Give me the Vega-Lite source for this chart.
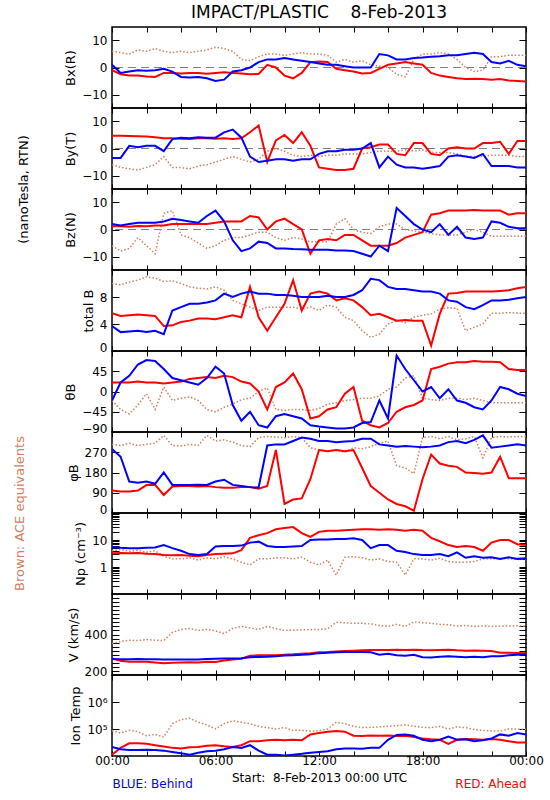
{
"$schema": "https://vega.github.io/schema/vega-lite/v6.json",
"background": "white",
"padding": {"left": 12, "top": 3, "right": 5, "bottom": 5},
"title": {"text": "IMPACT/PLASTIC\u00a0\u00a0\u00a0\u00a08-Feb-2013", "font": "DejaVu Sans", "fontSize": 17, "fontWeight": "normal", "color": "black", "anchor": "middle", "frame": "group", "offset": 4},
"spacing": 0,
"bounds": "flush",
"datasets": {
"bx": [
{"t":0,"a":6,"r":-1,"b":1},{"t":0.5,"a":5.5,"r":-2.5,"b":-2},{"t":1,"a":5,"r":-3,"b":-1.5},{"t":1.5,"a":6.5,"r":-3,"b":-1},{"t":2,"a":6,"r":-3.3,"b":-1.2},{"t":2.5,"a":7,"r":-3.5,"b":-1},{"t":3,"a":6,"r":-2,"b":-0.5},{"t":3.5,"a":5.5,"r":-2,"b":-1.5},{"t":4,"a":6,"r":-2.2,"b":-3.5},{"t":4.5,"a":5.5,"r":-2,"b":-3.7},{"t":5,"a":6,"r":-2,"b":-3.5},{"t":5.5,"a":6.5,"r":-2.3,"b":-4},{"t":6,"a":7.5,"r":-2,"b":-5},{"t":6.5,"a":7,"r":-1.8,"b":-4.5},{"t":7,"a":6,"r":-2,"b":-1.5},{"t":7.5,"a":3,"r":-2.2,"b":-1},{"t":8,"a":2.5,"r":-2.5,"b":0},{"t":8.5,"a":4,"r":-2.4,"b":2},{"t":9,"a":5,"r":1,"b":3},{"t":9.5,"a":5,"r":0,"b":3},{"t":10,"a":4.5,"r":-3,"b":3.5},{"t":10.5,"a":5,"r":-4,"b":3},{"t":11,"a":5.5,"r":-2,"b":2.5},{"t":11.5,"a":5,"r":2,"b":2},{"t":12,"a":5,"r":2.2,"b":1.5},{"t":12.5,"a":4.5,"r":2,"b":1},{"t":13,"a":2,"r":-0.5,"b":1},{"t":13.5,"a":3,"r":-1,"b":0.5},{"t":14,"a":2,"r":-1.5,"b":0},{"t":14.5,"a":2.5,"r":-2.2,"b":0},{"t":15,"a":1,"r":-2,"b":0},{"t":15.5,"a":0.5,"r":-0.5,"b":5},{"t":16,"a":0,"r":1,"b":4.5},{"t":16.5,"a":-2.5,"r":1.5,"b":3},{"t":17,"a":-3.5,"r":2,"b":3},{"t":17.5,"a":3,"r":1.5,"b":3.5},{"t":18,"a":5,"r":1,"b":3.7},{"t":18.5,"a":5,"r":-2,"b":4},{"t":19,"a":5.5,"r":-3,"b":4.2},{"t":19.5,"a":5,"r":-3.5,"b":4.5},{"t":20,"a":3,"r":-4,"b":4.5},{"t":20.5,"a":0,"r":-4.3,"b":5},{"t":21,"a":-1.5,"r":-4.2,"b":5.5},{"t":21.5,"a":-1,"r":-4.3,"b":5},{"t":22,"a":4,"r":-4.5,"b":2},{"t":22.5,"a":4,"r":-4.3,"b":1.5},{"t":23,"a":4.5,"r":-4.8,"b":2.5},{"t":23.5,"a":4.5,"r":-5,"b":1},{"t":24,"a":4.5,"r":-5.2,"b":0.5}
],
"by": [
{"t":0,"a":-6,"r":4.7,"b":-3.5},{"t":0.5,"a":-7,"r":4.7,"b":-3.5},{"t":1,"a":-7.5,"r":4.6,"b":1},{"t":1.5,"a":-8,"r":4.5,"b":0.5},{"t":2,"a":-7,"r":4.4,"b":1},{"t":2.5,"a":-6,"r":4.2,"b":1},{"t":3,"a":-3,"r":3.8,"b":-1},{"t":3.5,"a":-7,"r":3.8,"b":3.5},{"t":4,"a":-7,"r":3.6,"b":4},{"t":4.5,"a":-7.5,"r":3.5,"b":3.8},{"t":5,"a":-6.5,"r":3.8,"b":4.2},{"t":5.5,"a":-6,"r":3.8,"b":4},{"t":6,"a":-5,"r":3.6,"b":4},{"t":6.5,"a":-4,"r":3.8,"b":6},{"t":7,"a":-3,"r":3.5,"b":7},{"t":7.5,"a":-4,"r":3.8,"b":4},{"t":8,"a":-5,"r":6,"b":-3},{"t":8.5,"a":-4,"r":8.5,"b":-5},{"t":9,"a":-1,"r":-5,"b":-4.5},{"t":9.5,"a":0,"r":3,"b":-4},{"t":10,"a":-1,"r":5,"b":-4},{"t":10.5,"a":-2.5,"r":2,"b":-4.5},{"t":11,"a":-3,"r":6,"b":-4},{"t":11.5,"a":-2.5,"r":1,"b":-4},{"t":12,"a":-3,"r":-7,"b":-2},{"t":12.5,"a":-2.5,"r":-7.5,"b":-1},{"t":13,"a":-2.5,"r":-8,"b":-1},{"t":13.5,"a":-2,"r":-8,"b":-0.5},{"t":14,"a":-2,"r":-7.5,"b":-0.5},{"t":14.5,"a":-2,"r":0,"b":0},{"t":15,"a":-1.5,"r":0.5,"b":2},{"t":15.5,"a":-1,"r":1.5,"b":-7},{"t":16,"a":-1,"r":1.5,"b":-3},{"t":16.5,"a":-1,"r":-2,"b":-6},{"t":17,"a":-0.5,"r":-2.5,"b":-7},{"t":17.5,"a":-1,"r":2,"b":-7},{"t":18,"a":-0.5,"r":2,"b":-7.5},{"t":18.5,"a":-1.5,"r":-2,"b":-7},{"t":19,"a":-1.5,"r":-2.5,"b":-6.5},{"t":19.5,"a":-1.5,"r":0,"b":-3},{"t":20,"a":-2,"r":0.5,"b":-2.5},{"t":20.5,"a":-3,"r":0,"b":-3},{"t":21,"a":-3,"r":0,"b":-3.5},{"t":21.5,"a":-3,"r":2,"b":-2},{"t":22,"a":-2.5,"r":2,"b":-6.5},{"t":22.5,"a":-2.5,"r":2.5,"b":-6.5},{"t":23,"a":-2.5,"r":-2,"b":-6.5},{"t":23.5,"a":-3,"r":2.8,"b":-7},{"t":24,"a":-3,"r":2.8,"b":-7}
],
"bz": [
{"t":0,"a":-6,"r":1.2,"b":2},{"t":0.5,"a":-8,"r":1.2,"b":1.5},{"t":1,"a":-7,"r":1,"b":2},{"t":1.5,"a":-3,"r":1.3,"b":2.5},{"t":2,"a":-6,"r":1.2,"b":2.5},{"t":2.5,"a":-9,"r":1.5,"b":2.5},{"t":3,"a":6,"r":1.5,"b":3},{"t":3.5,"a":7,"r":2,"b":4},{"t":4,"a":-2,"r":2,"b":3.5},{"t":4.5,"a":-3,"r":2,"b":3},{"t":5,"a":-5,"r":2,"b":2.5},{"t":5.5,"a":-7,"r":2,"b":5},{"t":6,"a":-6,"r":2.5,"b":7},{"t":6.5,"a":-4,"r":3,"b":3},{"t":7,"a":-3,"r":3,"b":-4},{"t":7.5,"a":-3,"r":3,"b":-8},{"t":8,"a":-2,"r":5,"b":-7},{"t":8.5,"a":-1,"r":4.5,"b":-4.5},{"t":9,"a":-1,"r":0,"b":-5},{"t":9.5,"a":-3,"r":3,"b":-7},{"t":10,"a":-4,"r":4,"b":-7},{"t":10.5,"a":-3,"r":2,"b":-7.2},{"t":11,"a":-3.5,"r":0,"b":-7.3},{"t":11.5,"a":-4.5,"r":-9,"b":-7.5},{"t":12,"a":-4.5,"r":-4,"b":-7.5},{"t":12.5,"a":-4.5,"r":-3.5,"b":-7.5},{"t":13,"a":2,"r":-4,"b":-7.8},{"t":13.5,"a":4,"r":-2,"b":-7.8},{"t":14,"a":0,"r":-2,"b":-8},{"t":14.5,"a":-1,"r":-4,"b":-9},{"t":15,"a":-1.5,"r":-6,"b":-10},{"t":15.5,"a":1,"r":-6,"b":-6},{"t":16,"a":2,"r":-6,"b":-8},{"t":16.5,"a":2,"r":-5,"b":8},{"t":17,"a":0,"r":-3,"b":5},{"t":17.5,"a":-0.5,"r":-2,"b":2},{"t":18,"a":-1,"r":-1,"b":0},{"t":18.5,"a":-1.5,"r":5.5,"b":-1},{"t":19,"a":-2,"r":6,"b":2},{"t":19.5,"a":-2,"r":7,"b":-2},{"t":20,"a":-2,"r":7,"b":1},{"t":20.5,"a":-1,"r":7,"b":-3},{"t":21,"a":0,"r":7.2,"b":-3.5},{"t":21.5,"a":-1,"r":7,"b":-3},{"t":22,"a":-2.5,"r":7,"b":3},{"t":22.5,"a":-2.5,"r":7,"b":2.5},{"t":23,"a":-2.5,"r":5.5,"b":1},{"t":23.5,"a":-2.5,"r":6,"b":0.5},{"t":24,"a":-2.5,"r":6,"b":0.5}
],
"tb": [
{"t":0,"a":10,"r":5.6,"b":3.7},{"t":0.5,"a":9.8,"r":5.2,"b":2.8},{"t":1,"a":10.2,"r":5.3,"b":2.9},{"t":1.5,"a":10.5,"r":5.4,"b":3},{"t":2,"a":11,"r":5.3,"b":2.8},{"t":2.5,"a":10.8,"r":5.2,"b":3},{"t":3,"a":10.3,"r":3.7,"b":2.5},{"t":3.5,"a":10.4,"r":3.8,"b":6},{"t":4,"a":10,"r":4.3,"b":6.5},{"t":4.5,"a":9.5,"r":4.5,"b":7},{"t":5,"a":9.3,"r":4.8,"b":7},{"t":5.5,"a":9.2,"r":4.8,"b":7.2},{"t":6,"a":9.5,"r":4.7,"b":7.5},{"t":6.5,"a":9,"r":5,"b":8.5},{"t":7,"a":7.5,"r":5.3,"b":8},{"t":7.5,"a":7,"r":5,"b":8.5},{"t":8,"a":6.5,"r":9.5,"b":8.8},{"t":8.5,"a":6,"r":5,"b":8.5},{"t":9,"a":6.5,"r":3,"b":8.5},{"t":9.5,"a":6.5,"r":5,"b":8.3},{"t":10,"a":6.5,"r":7,"b":8.3},{"t":10.5,"a":6.5,"r":10.5,"b":8.2},{"t":11,"a":6.2,"r":6,"b":8},{"t":11.5,"a":6.5,"r":8.5,"b":8},{"t":12,"a":6,"r":8.8,"b":8},{"t":12.5,"a":6.8,"r":8.5,"b":8.2},{"t":13,"a":6.5,"r":7.5,"b":8},{"t":13.5,"a":5,"r":7.8,"b":8},{"t":14,"a":4.5,"r":7.5,"b":8.3},{"t":14.5,"a":3,"r":6.5,"b":9},{"t":15,"a":2,"r":5.3,"b":10.7},{"t":15.5,"a":2.5,"r":5.5,"b":10.5},{"t":16,"a":4,"r":5,"b":9.5},{"t":16.5,"a":4.5,"r":4.5,"b":9.2},{"t":17,"a":4.2,"r":4.6,"b":9.2},{"t":17.5,"a":5,"r":4.5,"b":9},{"t":18,"a":5.3,"r":4.5,"b":8.8},{"t":18.5,"a":5.5,"r":0.8,"b":8.8},{"t":19,"a":6.2,"r":5.5,"b":8.5},{"t":19.5,"a":6.4,"r":8.5,"b":7.5},{"t":20,"a":6.3,"r":8.6,"b":7.3},{"t":20.5,"a":3,"r":8.8,"b":6.5},{"t":21,"a":3.5,"r":8.8,"b":6.2},{"t":21.5,"a":4,"r":8.8,"b":6.8},{"t":22,"a":5.6,"r":8.8,"b":7.5},{"t":22.5,"a":5.6,"r":8.9,"b":7.5},{"t":23,"a":5.7,"r":9,"b":7.6},{"t":23.5,"a":5.6,"r":9.3,"b":7.8},{"t":24,"a":5.6,"r":9.5,"b":8}
],
"th": [
{"t":0,"a":-20,"r":20,"b":-20},{"t":0.5,"a":-40,"r":20,"b":20},{"t":1,"a":-50,"r":20,"b":35},{"t":1.5,"a":-30,"r":22,"b":60},{"t":2,"a":-5,"r":20,"b":70},{"t":2.5,"a":-40,"r":20,"b":68},{"t":3,"a":10,"r":18,"b":50},{"t":3.5,"a":-20,"r":20,"b":30},{"t":4,"a":-15,"r":22,"b":25},{"t":4.5,"a":-12,"r":28,"b":20},{"t":5,"a":-20,"r":30,"b":15},{"t":5.5,"a":-40,"r":32,"b":30},{"t":6,"a":-45,"r":30,"b":55},{"t":6.5,"a":-35,"r":35,"b":40},{"t":7,"a":-28,"r":32,"b":-30},{"t":7.5,"a":-18,"r":22,"b":-65},{"t":8,"a":-15,"r":18,"b":-45},{"t":8.5,"a":0,"r":0,"b":-75},{"t":9,"a":8,"r":-40,"b":-80},{"t":9.5,"a":-40,"r":10,"b":-55},{"t":10,"a":-42,"r":20,"b":-50},{"t":10.5,"a":-40,"r":40,"b":-55},{"t":11,"a":-40,"r":5,"b":-60},{"t":11.5,"a":-42,"r":-60,"b":-75},{"t":12,"a":-38,"r":-55,"b":-78},{"t":12.5,"a":-28,"r":-40,"b":-80},{"t":13,"a":-25,"r":-35,"b":-82},{"t":13.5,"a":-20,"r":-5,"b":-82},{"t":14,"a":-18,"r":10,"b":-80},{"t":14.5,"a":-15,"r":-65,"b":-70},{"t":15,"a":-15,"r":-75,"b":-68},{"t":15.5,"a":-10,"r":-80,"b":-20},{"t":16,"a":5,"r":-70,"b":-60},{"t":16.5,"a":10,"r":-45,"b":80},{"t":17,"a":30,"r":-35,"b":50},{"t":17.5,"a":35,"r":-30,"b":25},{"t":18,"a":-15,"r":-20,"b":0},{"t":18.5,"a":-18,"r":50,"b":10},{"t":19,"a":-20,"r":55,"b":-15},{"t":19.5,"a":-15,"r":62,"b":5},{"t":20,"a":-15,"r":65,"b":-20},{"t":20.5,"a":-18,"r":65,"b":-25},{"t":21,"a":-15,"r":68,"b":-35},{"t":21.5,"a":-20,"r":66,"b":-40},{"t":22,"a":-25,"r":66,"b":-20},{"t":22.5,"a":-25,"r":65,"b":10},{"t":23,"a":-25,"r":50,"b":5},{"t":23.5,"a":-25,"r":48,"b":-5},{"t":24,"a":-25,"r":48,"b":-10}
],
"ph": [
{"t":0,"a":305,"r":100,"b":285},{"t":0.5,"a":300,"r":96,"b":250},{"t":1,"a":310,"r":96,"b":140},{"t":1.5,"a":300,"r":100,"b":135},{"t":2,"a":305,"r":124,"b":140},{"t":2.5,"a":310,"r":125,"b":130},{"t":3,"a":345,"r":80,"b":180},{"t":3.5,"a":300,"r":118,"b":125},{"t":4,"a":298,"r":120,"b":125},{"t":4.5,"a":305,"r":120,"b":124},{"t":5,"a":300,"r":118,"b":126},{"t":5.5,"a":345,"r":120,"b":125},{"t":6,"a":320,"r":115,"b":140},{"t":6.5,"a":325,"r":112,"b":148},{"t":7,"a":315,"r":112,"b":125},{"t":7.5,"a":300,"r":115,"b":120},{"t":8,"a":295,"r":116,"b":115},{"t":8.5,"a":335,"r":108,"b":113},{"t":9,"a":340,"r":120,"b":300},{"t":9.5,"a":338,"r":280,"b":305},{"t":10,"a":335,"r":40,"b":305},{"t":10.5,"a":340,"r":60,"b":320},{"t":11,"a":335,"r":65,"b":335},{"t":11.5,"a":290,"r":150,"b":330},{"t":12,"a":280,"r":280,"b":320},{"t":12.5,"a":275,"r":275,"b":320},{"t":13,"a":280,"r":280,"b":315},{"t":13.5,"a":270,"r":275,"b":318},{"t":14,"a":290,"r":280,"b":320},{"t":14.5,"a":285,"r":200,"b":330},{"t":15,"a":295,"r":120,"b":330},{"t":15.5,"a":310,"r":90,"b":305},{"t":16,"a":320,"r":60,"b":300},{"t":16.5,"a":210,"r":40,"b":295},{"t":17,"a":200,"r":30,"b":298},{"t":17.5,"a":175,"r":10,"b":295},{"t":18,"a":335,"r":150,"b":292},{"t":18.5,"a":340,"r":260,"b":295},{"t":19,"a":330,"r":220,"b":300},{"t":19.5,"a":340,"r":210,"b":315},{"t":20,"a":325,"r":205,"b":320},{"t":20.5,"a":330,"r":180,"b":310},{"t":21,"a":340,"r":178,"b":325},{"t":21.5,"a":245,"r":175,"b":345},{"t":22,"a":335,"r":180,"b":290},{"t":22.5,"a":340,"r":250,"b":295},{"t":23,"a":338,"r":155,"b":300},{"t":23.5,"a":340,"r":155,"b":305},{"t":24,"a":340,"r":155,"b":300}
],
"np": [
{"t":0,"a":4,"r":3.2,"b":5.5},{"t":0.5,"a":4.5,"r":3.3,"b":5.2},{"t":1,"a":3.8,"r":3.2,"b":5},{"t":1.5,"a":4.2,"r":3.3,"b":5},{"t":2,"a":3.5,"r":3.1,"b":5.2},{"t":2.5,"a":4,"r":3,"b":5.3},{"t":3,"a":2.5,"r":2.8,"b":6.5},{"t":3.5,"a":2,"r":2.7,"b":5},{"t":4,"a":2,"r":2.8,"b":4},{"t":4.5,"a":2.2,"r":2.6,"b":3},{"t":5,"a":1.8,"r":2.5,"b":2.8},{"t":5.5,"a":2.2,"r":2.8,"b":3},{"t":6,"a":2,"r":3,"b":5.8},{"t":6.5,"a":2.4,"r":3.1,"b":6},{"t":7,"a":2,"r":3.2,"b":6},{"t":7.5,"a":1.5,"r":4.2,"b":6.2},{"t":8,"a":1.2,"r":12,"b":8},{"t":8.5,"a":2,"r":15,"b":8.7},{"t":9,"a":2,"r":18,"b":6},{"t":9.5,"a":2.2,"r":25,"b":5.5},{"t":10,"a":2.2,"r":28,"b":5.5},{"t":10.5,"a":2,"r":30,"b":5.8},{"t":11,"a":2.3,"r":18,"b":6},{"t":11.5,"a":1.5,"r":13,"b":10},{"t":12,"a":1.2,"r":20,"b":10.5},{"t":12.5,"a":1.8,"r":22,"b":10.5},{"t":13,"a":0.5,"r":22,"b":11},{"t":13.5,"a":2.3,"r":23,"b":11},{"t":14,"a":2.4,"r":24,"b":11.5},{"t":14.5,"a":2.2,"r":25,"b":10},{"t":15,"a":1.8,"r":25,"b":5},{"t":15.5,"a":2,"r":24,"b":6.5},{"t":16,"a":1.6,"r":25,"b":6.5},{"t":16.5,"a":1.5,"r":24,"b":4},{"t":17,"a":0.5,"r":22,"b":3.6},{"t":17.5,"a":2,"r":24,"b":3},{"t":18,"a":2,"r":22,"b":2.8},{"t":18.5,"a":1.8,"r":12,"b":2.8},{"t":19,"a":2.1,"r":9,"b":3},{"t":19.5,"a":1.6,"r":6.5,"b":2.5},{"t":20,"a":1.5,"r":5.5,"b":3.5},{"t":20.5,"a":1.5,"r":6,"b":2.2},{"t":21,"a":1.6,"r":5.5,"b":2.5},{"t":21.5,"a":2,"r":4,"b":2.2},{"t":22,"a":2,"r":8,"b":2.3},{"t":22.5,"a":2.1,"r":10,"b":2},{"t":23,"a":2,"r":10,"b":2.3},{"t":23.5,"a":1.9,"r":7,"b":2},{"t":24,"a":2,"r":6.5,"b":2.1}
],
"vv": [
{"t":0,"a":356,"r":282,"b":279},{"t":0.5,"a":365,"r":270,"b":278},{"t":1,"a":372,"r":266,"b":278},{"t":1.5,"a":370,"r":265,"b":279},{"t":2,"a":375,"r":266,"b":278},{"t":2.5,"a":372,"r":262,"b":278},{"t":3,"a":370,"r":258,"b":277},{"t":3.5,"a":410,"r":260,"b":276},{"t":4,"a":425,"r":262,"b":276},{"t":4.5,"a":430,"r":263,"b":276},{"t":5,"a":420,"r":262,"b":277},{"t":5.5,"a":425,"r":265,"b":279},{"t":6,"a":418,"r":264,"b":280},{"t":6.5,"a":405,"r":272,"b":281},{"t":7,"a":430,"r":276,"b":282},{"t":7.5,"a":440,"r":280,"b":283},{"t":8,"a":432,"r":295,"b":288},{"t":8.5,"a":425,"r":297,"b":289},{"t":9,"a":440,"r":298,"b":290},{"t":9.5,"a":430,"r":298,"b":292},{"t":10,"a":420,"r":300,"b":296},{"t":10.5,"a":422,"r":302,"b":298},{"t":11,"a":423,"r":305,"b":300},{"t":11.5,"a":424,"r":308,"b":303},{"t":12,"a":425,"r":312,"b":308},{"t":12.5,"a":428,"r":313,"b":310},{"t":13,"a":460,"r":316,"b":312},{"t":13.5,"a":458,"r":318,"b":313},{"t":14,"a":455,"r":320,"b":314},{"t":14.5,"a":455,"r":322,"b":314},{"t":15,"a":452,"r":323,"b":312},{"t":15.5,"a":445,"r":323,"b":300},{"t":16,"a":440,"r":324,"b":305},{"t":16.5,"a":450,"r":325,"b":298},{"t":17,"a":440,"r":324,"b":295},{"t":17.5,"a":463,"r":325,"b":300},{"t":18,"a":458,"r":323,"b":288},{"t":18.5,"a":455,"r":322,"b":287},{"t":19,"a":450,"r":324,"b":290},{"t":19.5,"a":448,"r":325,"b":292},{"t":20,"a":442,"r":322,"b":290},{"t":20.5,"a":445,"r":320,"b":288},{"t":21,"a":440,"r":321,"b":290},{"t":21.5,"a":442,"r":320,"b":288},{"t":22,"a":440,"r":318,"b":292},{"t":22.5,"a":441,"r":310,"b":293},{"t":23,"a":442,"r":310,"b":298},{"t":23.5,"a":443,"r":309,"b":300},{"t":24,"a":440,"r":308,"b":302}
],
"ti": [
{"t":0,"a":87100,"r":11200,"b":21400},{"t":0.5,"a":70800,"r":20000,"b":17800},{"t":1,"a":89100,"r":29500,"b":16600},{"t":1.5,"a":79400,"r":29500,"b":16600},{"t":2,"a":56200,"r":28200,"b":17000},{"t":2.5,"a":63100,"r":25100,"b":16600},{"t":3,"a":50100,"r":22400,"b":15800},{"t":3.5,"a":158000,"r":20000,"b":14100},{"t":4,"a":224000,"r":19100,"b":12600},{"t":4.5,"a":251000,"r":20900,"b":11200},{"t":5,"a":178000,"r":21400,"b":13200},{"t":5.5,"a":141000,"r":24000,"b":15100},{"t":6,"a":100000,"r":25100,"b":15800},{"t":6.5,"a":158000,"r":22900,"b":17800},{"t":7,"a":200000,"r":21400,"b":21400},{"t":7.5,"a":178000,"r":25100,"b":20000},{"t":8,"a":158000,"r":35500,"b":25100},{"t":8.5,"a":126000,"r":35500,"b":15800},{"t":9,"a":112000,"r":38000,"b":11200},{"t":9.5,"a":100000,"r":39800,"b":11200},{"t":10,"a":112000,"r":38000,"b":10500},{"t":10.5,"a":89100,"r":39800,"b":11200},{"t":11,"a":89100,"r":38000,"b":12000},{"t":11.5,"a":83200,"r":63100,"b":13200},{"t":12,"a":87100,"r":70800,"b":14100},{"t":12.5,"a":100000,"r":79400,"b":15100},{"t":13,"a":178000,"r":85100,"b":17800},{"t":13.5,"a":158000,"r":79400,"b":19100},{"t":14,"a":126000,"r":56200,"b":19100},{"t":14.5,"a":112000,"r":55000,"b":18600},{"t":15,"a":115000,"r":57500,"b":20000},{"t":15.5,"a":120000,"r":56200,"b":20000},{"t":16,"a":126000,"r":57500,"b":39800},{"t":16.5,"a":132000,"r":55000,"b":60300},{"t":17,"a":141000,"r":56200,"b":63100},{"t":17.5,"a":126000,"r":50100,"b":56200},{"t":18,"a":115000,"r":44700,"b":39800},{"t":18.5,"a":112000,"r":41700,"b":35500},{"t":19,"a":126000,"r":39800,"b":39800},{"t":19.5,"a":100000,"r":28200,"b":52500},{"t":20,"a":120000,"r":39800,"b":39800},{"t":20.5,"a":112000,"r":42700,"b":41700},{"t":21,"a":95500,"r":41700,"b":35500},{"t":21.5,"a":89100,"r":39800,"b":38000},{"t":22,"a":85100,"r":42700,"b":44700},{"t":22.5,"a":83200,"r":39800,"b":63100},{"t":23,"a":100000,"r":35500,"b":56200},{"t":23.5,"a":100000,"r":31600,"b":70800},{"t":24,"a":95500,"r":31600,"b":63100}
]
},
"vconcat": [
{"width": 414, "height": 81, "data": {"name": "bx"},
 "layer": [
  {"mark": {"type": "rule", "color": "#808080", "strokeDash": [8, 5], "strokeWidth": 1}, "encoding": {"y": {"datum": 0, "type": "quantitative", "axis": null}}},
  {"mark": {"type": "line", "color": "#d08060", "strokeWidth": 1.5, "strokeDash": [1.5, 2], "clip": true},
   "encoding": {"x": {"field": "t", "type": "quantitative", "scale": {"domain": [0, 24], "nice": false, "zero": false}, "axis": {"orient": "bottom", "values": [0,2,4,6,8,10,12,14,16,18,20,22,24], "labels": false, "title": null}},
    "y": {"field": "a", "type": "quantitative", "scale": {"domain": [-15, 15], "nice": false, "zero": false}, "axis": {"orient": "left", "values": [-10, 0, 10], "title": "Bx(R)"}}}},
  {"mark": {"type": "line", "color": "#ff0000", "strokeWidth": 2, "clip": true},
   "encoding": {"x": {"field": "t", "type": "quantitative", "axis": {"orient": "top", "values": [0,2,4,6,8,10,12,14,16,18,20,22,24], "labels": false, "title": null}},
    "y": {"field": "r", "type": "quantitative", "axis": {"orient": "right", "values": [-10, 0, 10], "labels": false, "title": null}}}},
  {"mark": {"type": "line", "color": "#0000ff", "strokeWidth": 2, "clip": true},
   "encoding": {"x": {"field": "t", "type": "quantitative", "axis": null}, "y": {"field": "b", "type": "quantitative", "axis": null}}}
 ],
 "resolve": {"axis": {"x": "independent", "y": "independent"}}},
{"width": 414, "height": 81, "data": {"name": "by"},
 "layer": [
  {"mark": {"type": "rule", "color": "#808080", "strokeDash": [8, 5], "strokeWidth": 1}, "encoding": {"y": {"datum": 0, "type": "quantitative", "axis": null}}},
  {"mark": {"type": "line", "color": "#d08060", "strokeWidth": 1.5, "strokeDash": [1.5, 2], "clip": true},
   "encoding": {"x": {"field": "t", "type": "quantitative", "scale": {"domain": [0, 24], "nice": false, "zero": false}, "axis": {"orient": "bottom", "values": [0,2,4,6,8,10,12,14,16,18,20,22,24], "labels": false, "title": null}},
    "y": {"field": "a", "type": "quantitative", "scale": {"domain": [-15, 15], "nice": false, "zero": false}, "axis": {"orient": "left", "values": [-10, 0, 10], "title": "By(T)"}}}},
  {"mark": {"type": "line", "color": "#ff0000", "strokeWidth": 2, "clip": true},
   "encoding": {"x": {"field": "t", "type": "quantitative", "axis": {"orient": "top", "values": [0,2,4,6,8,10,12,14,16,18,20,22,24], "labels": false, "title": null}},
    "y": {"field": "r", "type": "quantitative", "axis": {"orient": "right", "values": [-10, 0, 10], "labels": false, "title": null}}}},
  {"mark": {"type": "line", "color": "#0000ff", "strokeWidth": 2, "clip": true},
   "encoding": {"x": {"field": "t", "type": "quantitative", "axis": null}, "y": {"field": "b", "type": "quantitative", "axis": null}}}
 ],
 "resolve": {"axis": {"x": "independent", "y": "independent"}}},
{"width": 414, "height": 81, "data": {"name": "bz"},
 "layer": [
  {"mark": {"type": "rule", "color": "#808080", "strokeDash": [8, 5], "strokeWidth": 1}, "encoding": {"y": {"datum": 0, "type": "quantitative", "axis": null}}},
  {"mark": {"type": "line", "color": "#d08060", "strokeWidth": 1.5, "strokeDash": [1.5, 2], "clip": true},
   "encoding": {"x": {"field": "t", "type": "quantitative", "scale": {"domain": [0, 24], "nice": false, "zero": false}, "axis": {"orient": "bottom", "values": [0,2,4,6,8,10,12,14,16,18,20,22,24], "labels": false, "title": null}},
    "y": {"field": "a", "type": "quantitative", "scale": {"domain": [-15, 15], "nice": false, "zero": false}, "axis": {"orient": "left", "values": [-10, 0, 10], "title": "Bz(N)"}}}},
  {"mark": {"type": "line", "color": "#ff0000", "strokeWidth": 2, "clip": true},
   "encoding": {"x": {"field": "t", "type": "quantitative", "axis": {"orient": "top", "values": [0,2,4,6,8,10,12,14,16,18,20,22,24], "labels": false, "title": null}},
    "y": {"field": "r", "type": "quantitative", "axis": {"orient": "right", "values": [-10, 0, 10], "labels": false, "title": null}}}},
  {"mark": {"type": "line", "color": "#0000ff", "strokeWidth": 2, "clip": true},
   "encoding": {"x": {"field": "t", "type": "quantitative", "axis": null}, "y": {"field": "b", "type": "quantitative", "axis": {"orient": "left", "labels": false, "ticks": false, "domain": false, "title": "(nanoTesla, RTN)", "titleAnchor": "end", "titleAlign": "center", "titlePadding": 82}}}}
 ],
 "resolve": {"axis": {"x": "independent", "y": "independent"}}},
{"width": 414, "height": 81, "data": {"name": "tb"},
 "layer": [
  {"mark": {"type": "line", "color": "#d08060", "strokeWidth": 1.5, "strokeDash": [1.5, 2], "clip": true},
   "encoding": {"x": {"field": "t", "type": "quantitative", "scale": {"domain": [0, 24], "nice": false, "zero": false}, "axis": {"orient": "bottom", "values": [0,2,4,6,8,10,12,14,16,18,20,22,24], "labels": false, "title": null}},
    "y": {"field": "a", "type": "quantitative", "scale": {"domain": [0, 12], "nice": false, "zero": false}, "axis": {"orient": "left", "values": [0, 4, 8], "title": "total B"}}}},
  {"mark": {"type": "line", "color": "#ff0000", "strokeWidth": 2, "clip": true},
   "encoding": {"x": {"field": "t", "type": "quantitative", "axis": {"orient": "top", "values": [0,2,4,6,8,10,12,14,16,18,20,22,24], "labels": false, "title": null}},
    "y": {"field": "r", "type": "quantitative", "axis": {"orient": "right", "values": [0, 4, 8], "labels": false, "title": null}}}},
  {"mark": {"type": "line", "color": "#0000ff", "strokeWidth": 2, "clip": true},
   "encoding": {"x": {"field": "t", "type": "quantitative", "axis": null}, "y": {"field": "b", "type": "quantitative", "axis": null}}}
 ],
 "resolve": {"axis": {"x": "independent", "y": "independent"}}},
{"width": 414, "height": 81, "data": {"name": "th"},
 "layer": [
  {"mark": {"type": "line", "color": "#d08060", "strokeWidth": 1.5, "strokeDash": [1.5, 2], "clip": true},
   "encoding": {"x": {"field": "t", "type": "quantitative", "scale": {"domain": [0, 24], "nice": false, "zero": false}, "axis": {"orient": "bottom", "values": [0,2,4,6,8,10,12,14,16,18,20,22,24], "labels": false, "title": null}},
    "y": {"field": "a", "type": "quantitative", "scale": {"domain": [-90, 90], "nice": false, "zero": false}, "axis": {"orient": "left", "values": [-90, -45, 0, 45], "title": "θB"}}}},
  {"mark": {"type": "line", "color": "#ff0000", "strokeWidth": 2, "clip": true},
   "encoding": {"x": {"field": "t", "type": "quantitative", "axis": {"orient": "top", "values": [0,2,4,6,8,10,12,14,16,18,20,22,24], "labels": false, "title": null}},
    "y": {"field": "r", "type": "quantitative", "axis": {"orient": "right", "values": [-90, -45, 0, 45], "labels": false, "title": null}}}},
  {"mark": {"type": "line", "color": "#0000ff", "strokeWidth": 2, "clip": true},
   "encoding": {"x": {"field": "t", "type": "quantitative", "axis": null}, "y": {"field": "b", "type": "quantitative", "axis": null}}}
 ],
 "resolve": {"axis": {"x": "independent", "y": "independent"}}},
{"width": 414, "height": 81, "data": {"name": "ph"},
 "layer": [
  {"mark": {"type": "line", "color": "#d08060", "strokeWidth": 1.5, "strokeDash": [1.5, 2], "clip": true},
   "encoding": {"x": {"field": "t", "type": "quantitative", "scale": {"domain": [0, 24], "nice": false, "zero": false}, "axis": {"orient": "bottom", "values": [0,2,4,6,8,10,12,14,16,18,20,22,24], "labels": false, "title": null}},
    "y": {"field": "a", "type": "quantitative", "scale": {"domain": [0, 360], "nice": false, "zero": false}, "axis": {"orient": "left", "values": [0, 90, 180, 270], "title": "φB"}}}},
  {"mark": {"type": "line", "color": "#ff0000", "strokeWidth": 2, "clip": true},
   "encoding": {"x": {"field": "t", "type": "quantitative", "axis": {"orient": "top", "values": [0,2,4,6,8,10,12,14,16,18,20,22,24], "labels": false, "title": null}},
    "y": {"field": "r", "type": "quantitative", "axis": {"orient": "right", "values": [0, 90, 180, 270], "labels": false, "title": null}}}},
  {"mark": {"type": "line", "color": "#0000ff", "strokeWidth": 2, "clip": true},
   "encoding": {"x": {"field": "t", "type": "quantitative", "axis": null}, "y": {"field": "b", "type": "quantitative", "axis": null}}}
 ],
 "resolve": {"axis": {"x": "independent", "y": "independent"}}},
{"width": 414, "height": 81, "data": {"name": "np"},
 "layer": [
  {"mark": {"type": "line", "color": "#d08060", "strokeWidth": 1.5, "strokeDash": [1.5, 2], "clip": true},
   "encoding": {"x": {"field": "t", "type": "quantitative", "scale": {"domain": [0, 24], "nice": false, "zero": false}, "axis": {"orient": "bottom", "values": [0,2,4,6,8,10,12,14,16,18,20,22,24], "labels": false, "title": null}},
    "y": {"field": "a", "type": "quantitative", "scale": {"type": "log", "domain": [0.1, 100], "nice": false}, "axis": {"orient": "left", "values": [0.2,0.3,0.4,0.5,0.6,0.7,0.8,0.9,1,2,3,4,5,6,7,8,9,10,20,30,40,50,60,70,80,90], "labelExpr": "datum.value == 1 ? '1' : datum.value == 10 ? '10' : ''", "labelOverlap": false, "title": "Np (cm⁻³)"}}}},
  {"mark": {"type": "line", "color": "#ff0000", "strokeWidth": 2, "clip": true},
   "encoding": {"x": {"field": "t", "type": "quantitative", "axis": {"orient": "top", "values": [0,2,4,6,8,10,12,14,16,18,20,22,24], "labels": false, "title": null}},
    "y": {"field": "r", "type": "quantitative", "axis": {"orient": "right", "values": [0.2,0.3,0.4,0.5,0.6,0.7,0.8,0.9,1,2,3,4,5,6,7,8,9,10,20,30,40,50,60,70,80,90], "labels": false, "title": null}}}},
  {"mark": {"type": "line", "color": "#0000ff", "strokeWidth": 2, "clip": true},
   "encoding": {"x": {"field": "t", "type": "quantitative", "axis": null}, "y": {"field": "b", "type": "quantitative", "axis": {"orient": "left", "labels": false, "ticks": false, "domain": false, "title": "Brown: ACE equivalents", "titleColor": "#d08060", "titleAnchor": "end", "titleAlign": "center", "titlePadding": 86}}}}
 ],
 "resolve": {"axis": {"x": "independent", "y": "independent"}}},
{"width": 414, "height": 81, "data": {"name": "vv"},
 "layer": [
  {"mark": {"type": "line", "color": "#d08060", "strokeWidth": 1.5, "strokeDash": [1.5, 2], "clip": true},
   "encoding": {"x": {"field": "t", "type": "quantitative", "scale": {"domain": [0, 24], "nice": false, "zero": false}, "axis": {"orient": "bottom", "values": [0,2,4,6,8,10,12,14,16,18,20,22,24], "labels": false, "title": null}},
    "y": {"field": "a", "type": "quantitative", "scale": {"domain": [200, 600], "nice": false, "zero": false}, "axis": {"orient": "left", "values": [200,220,240,260,280,300,320,340,360,380,400,420,440,460,480,500,520,540,560,580], "labelExpr": "datum.value == 200 ? '200' : datum.value == 400 ? '400' : ''", "labelOverlap": false, "title": "V (km/s)"}}}},
  {"mark": {"type": "line", "color": "#ff0000", "strokeWidth": 2, "clip": true},
   "encoding": {"x": {"field": "t", "type": "quantitative", "axis": {"orient": "top", "values": [0,2,4,6,8,10,12,14,16,18,20,22,24], "labels": false, "title": null}},
    "y": {"field": "r", "type": "quantitative", "axis": {"orient": "right", "values": [200,220,240,260,280,300,320,340,360,380,400,420,440,460,480,500,520,540,560,580], "labels": false, "title": null}}}},
  {"mark": {"type": "line", "color": "#0000ff", "strokeWidth": 2, "clip": true},
   "encoding": {"x": {"field": "t", "type": "quantitative", "axis": null}, "y": {"field": "b", "type": "quantitative", "axis": null}}}
 ],
 "resolve": {"axis": {"x": "independent", "y": "independent"}}},
{"width": 414, "height": 81, "data": {"name": "ti"},
 "layer": [
  {"mark": {"type": "line", "color": "#d08060", "strokeWidth": 1.5, "strokeDash": [1.5, 2], "clip": true},
   "encoding": {"x": {"field": "t", "type": "quantitative", "scale": {"domain": [0, 24], "nice": false, "zero": false}, "axis": {"orient": "bottom", "values": [0,2,4,6,8,10,12,14,16,18,20,22,24], "labelExpr": "datum.value % 24 == 0 ? '00:00' : datum.value == 6 ? '06:00' : datum.value == 12 ? '12:00' : datum.value == 18 ? '18:00' : ''", "labelOverlap": false, "labelPadding": 4, "title": "Start:\u00a0\u00a08-Feb-2013 00:00 UTC", "titlePadding": 6, "titleFontSize": 12}},
    "y": {"field": "a", "type": "quantitative", "scale": {"type": "log", "domain": [10000, 10000000], "nice": false}, "axis": {"orient": "left", "values": [100000, 1000000], "labelExpr": "datum.value == 100000 ? '10⁵' : '10⁶'", "title": "Ion Temp"}}}},
  {"mark": {"type": "line", "color": "#ff0000", "strokeWidth": 2, "clip": true},
   "encoding": {"x": {"field": "t", "type": "quantitative", "axis": {"orient": "top", "values": [0,2,4,6,8,10,12,14,16,18,20,22,24], "labels": false, "title": null}},
    "y": {"field": "r", "type": "quantitative", "axis": {"orient": "right", "values": [100000, 1000000], "labels": false, "title": null}}}},
  {"mark": {"type": "line", "color": "#0000ff", "strokeWidth": 2, "clip": true},
   "encoding": {"x": {"field": "t", "type": "quantitative", "axis": {"orient": "bottom", "labels": false, "ticks": false, "domain": false, "title": "BLUE: Behind", "titleColor": "#0000ff", "titleAnchor": "start", "titleFontSize": 12, "titlePadding": 22}}, "y": {"field": "b", "type": "quantitative", "axis": null}}},
  {"mark": {"type": "rule", "strokeOpacity": 0}, "encoding": {"x": {"datum": 0, "type": "quantitative", "axis": {"orient": "bottom", "labels": false, "ticks": false, "domain": false, "title": "RED: Ahead", "titleColor": "#ff0000", "titleAnchor": "end", "titleFontSize": 12, "titlePadding": 22}}}}
 ],
 "resolve": {"axis": {"x": "independent", "y": "independent"}}}
],
"config": {
 "view": {"stroke": "black", "strokeWidth": 1.5},
 "axis": {"grid": false, "domain": false, "labelFont": "DejaVu Sans", "labelFontSize": 12, "labelColor": "black", "titleFont": "DejaVu Sans", "titleFontSize": 13, "titleFontWeight": "normal", "titleColor": "black", "tickColor": "black", "tickWidth": 1},
 "axisX": {"tickSize": -5, "labelFlush": false},
 "axisY": {"tickSize": -7, "labelPadding": 12, "labelFlush": true, "labelFlushOffset": 3, "titlePadding": 4}
}
}
